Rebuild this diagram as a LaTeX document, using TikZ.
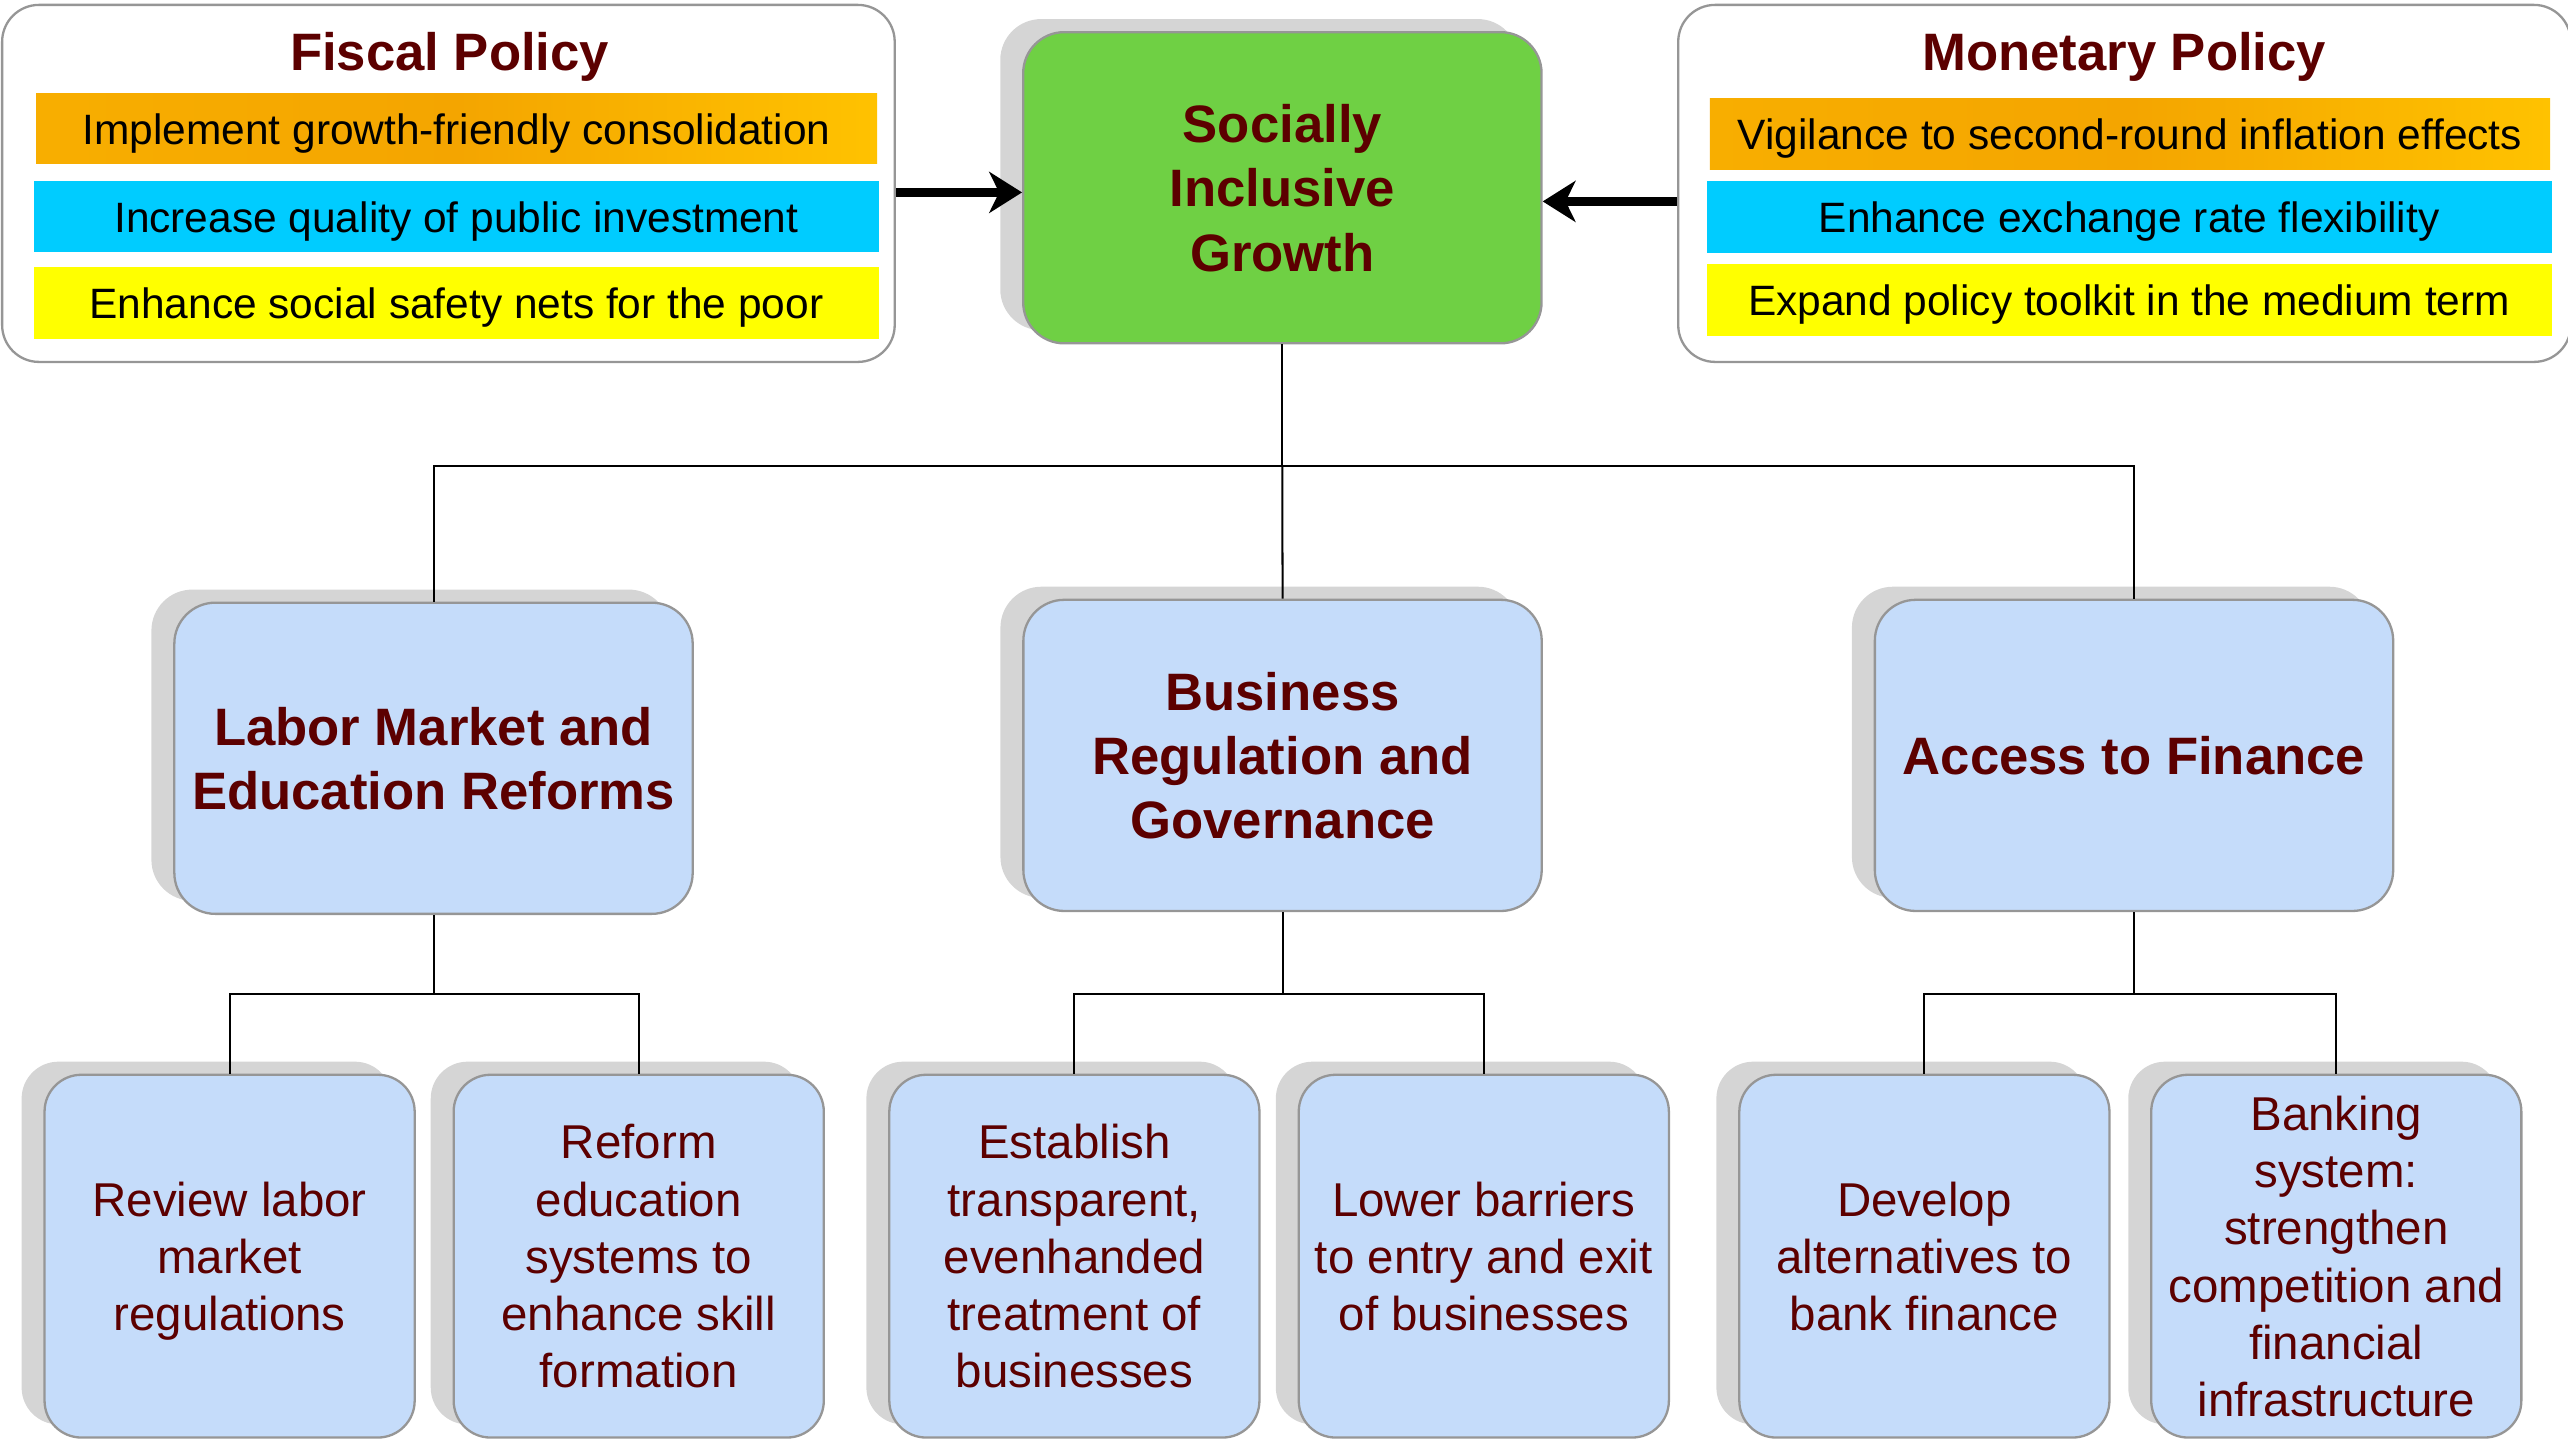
\documentclass[tikz,border=0pt]{standalone}
\usepackage{fontspec}
\setmainfont{Liberation Sans}
\usepackage{tikz}
\usetikzlibrary{arrows.meta,shapes,shadows}

\definecolor{titlered}{RGB}{92,0,0}
\definecolor{boxblue}{RGB}{197,220,250}
\definecolor{growthgreen}{RGB}{111,208,68}
\definecolor{edgegray}{RGB}{150,150,150}
\definecolor{shadegray}{RGB}{213,213,213}
\definecolor{barcyan}{RGB}{0,204,255}
\definecolor{baryellow}{RGB}{255,255,0}
\definecolor{barorangeA}{RGB}{248,174,0}
\definecolor{barorangeB}{RGB}{244,165,0}
\definecolor{barorangeC}{RGB}{255,194,0}

\tikzset{
  policybox/.style={draw=edgegray, line width=0.8pt, rounded corners=0.45cm, fill=white,
    minimum width=10.9cm, minimum height=4.36cm},
  policybar/.style={inner sep=0pt, minimum width=10.32cm, minimum height=0.875cm,
    text height=11pt, text depth=0pt, font=\fontsize{14.75}{17}\selectfont},
  orangebar/.style={policybar, left color=barorangeA, right color=barorangeC, middle color=barorangeB},
  titletext/.style={text=titlered, font=\fontsize{18.3}{22}\selectfont\bfseries, anchor=base, inner sep=0pt},
  pillar/.style={draw=edgegray, line width=0.8pt, rounded corners=0.5cm, fill=boxblue, text=titlered,
    align=center, inner sep=2pt, minimum width=6.33cm, minimum height=3.8cm, text depth=-1.5pt,
    font=\fontsize{18.3}{22.3}\selectfont\bfseries,
    drop shadow={shadow xshift=-0.28cm, shadow yshift=0.16cm, fill=shadegray, opacity=1}},
  measure/.style={pillar, rounded corners=0.45cm, minimum width=4.52cm, minimum height=4.43cm,
    font=\fontsize{16.5}{19.9}\selectfont},
  link/.style={draw=black, line width=0.7pt},
  bigarrow/.style={draw=black, line width=3.4pt, -{Stealth[length=0.4cm,width=0.5cm,inset=0.12cm]}}
}

\begin{document}
\begin{tikzpicture}
\useasboundingbox (0,0) rectangle (31.36,17.573);

%%% FISCAL POLICY
\path[draw] (5.476,15.333) node[policybox] (fiscal) {};
\path[draw] (5.49,16.713) node[titletext] (fiscaltitle) {Fiscal Policy};
\path[draw] (5.575,16.006) node[orangebar, minimum width=10.27cm, minimum height=0.854cm] (fiscalA) {Implement growth-friendly consolidation};
\path[draw] (5.573,14.928) node[policybar, fill=barcyan] (fiscalB) {Increase quality of public investment};
\path[draw] (5.573,13.873) node[policybar, fill=baryellow] (fiscalC) {Enhance social safety nets for the poor};

%%% MONETARY POLICY
\path[draw] (25.944,15.333) node[policybox] (monetary) {};
\path[draw] (25.94,16.713) node[titletext] (monetarytitle) {Monetary Policy};
\path[draw] (26.01,15.935) node[orangebar, minimum width=10.26cm, minimum height=0.86cm] (monetaryA) {Vigilance to second-round inflation effects};
\path[draw] (26.0,14.925) node[policybar, fill=barcyan] (monetaryB) {Enhance exchange rate flexibility};
\path[draw] (26.0,13.913) node[policybar, fill=baryellow] (monetaryC) {Expand policy toolkit in the medium term};

%%% GOAL
\path[draw] (15.66,15.28) node[pillar, fill=growthgreen] (growth) {Socially\\Inclusive\\Growth};
\coordinate (fiscalout) at ([yshift=-0.11cm]fiscal.east);
\coordinate (monetaryout) at ([yshift=-0.22cm]monetary.west);
\draw[bigarrow] (fiscalout) -- (fiscalout -| growth.west);
\draw[bigarrow] (monetaryout) -- (monetaryout -| growth.east);

%%% PILLARS
\path[draw] (5.294,8.313) node[pillar] (labor) {Labor Market and\\Education Reforms};
\path[draw] (15.662,8.348) node[pillar] (business) {Business\\Regulation and\\Governance};
\path[draw] (26.06,8.348) node[pillar] (finance) {Access to Finance};
\draw[link] (growth.south) -- ++(0,-1.48) coordinate (hub);
\draw[link] (hub) -| (labor.north);
\draw[link] (hub) -- (business.north);
\draw[link] (hub) -| (finance.north);

%%% MEASURES
\path[draw] (2.804,2.233) node[measure] (laborA) {Review labor\\market\\regulations};
\path[draw] (7.80,2.233) node[measure] (laborB) {Reform\\education\\systems to\\enhance skill\\formation};
\path[draw] (13.12,2.233) node[measure] (businessA) {Establish\\transparent,\\evenhanded\\treatment of\\businesses};
\path[draw] (18.12,2.233) node[measure] (businessB) {Lower barriers\\to entry and exit\\of businesses};
\path[draw] (23.50,2.233) node[measure] (financeA) {Develop\\alternatives to\\bank finance};
\path[draw] (28.53,2.233) node[measure] (financeB) {Banking\\system:\\strengthen\\competition and\\financial\\infrastructure};

\draw[link] (labor.south) -- ++(0,-0.96) coordinate (laborhub);
\draw[link] (laborA.north) |- (laborhub) -| (laborB.north);
\draw[link] (business.south) -- (business.south |- laborhub) coordinate (businesshub);
\draw[link] (businessA.north) |- (businesshub) -| (businessB.north);
\draw[link] (finance.south) -- (finance.south |- laborhub) coordinate (financehub);
\draw[link] (financeA.north) |- (financehub) -| (financeB.north);
\end{tikzpicture}
\end{document}
